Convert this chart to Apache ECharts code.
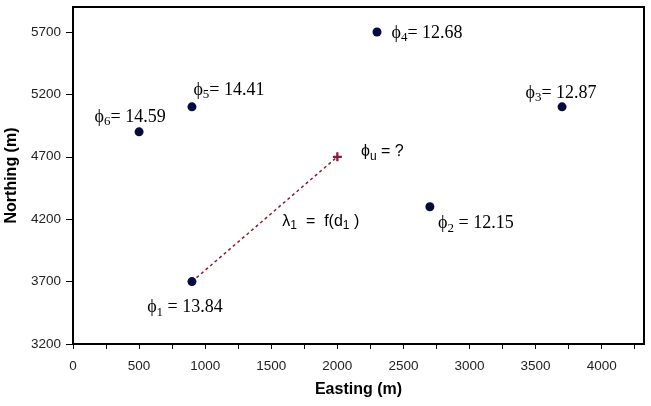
<!DOCTYPE html>
<html>
<head>
<meta charset="utf-8">
<script src="https://cdn.jsdelivr.net/npm/echarts@6/dist/echarts.min.js"></script>
<style>
  html, body { margin: 0; padding: 0; background: #fff; }
  #chart { width: 651px; height: 406px; }
</style>
</head>
<body>
<div id="chart"></div>
<script>
// known wells: easting, northing, subscript, value
var wellNames = ['1', '2', '3', '4', '5', '6']
var wellEasting = [900, 2700, 3700, 2300, 900, 500]
var wellNorthing = [3700, 4300, 5100, 5700, 5100, 4900]
var wellValues = ['13.84', '12.15', '12.87', '12.68', '14.41', '14.59']
// unknown point and the distance line from well 1
var unknownPoint = [2000, 4700]
var lambdaAnchor = [1875, 4184]

// label offsets (px) relative to each marker
var labelOffsets = [[-7, 26], [46, 17], [-1, -14], [50, 1], [37, -17], [-9, -15]]

var chart = echarts.init(document.getElementById('chart'))

var wellData = wellEasting.map(function(x, i) {
  return {
    value: [x, wellNorthing[i]],
    label: {
      show: true,
      position: 'inside',
      offset: labelOffsets[i],
      formatter: '{a|\u03d5}{s|' + wellNames[i] + '}{a|' + (i === 0 || i === 1 ? ' = ' : '= ') + wellValues[i] + '}'
    }
  }
})

var serifRich = {
  a: { fontFamily: 'Liberation Serif', fontSize: 18, color: '#000', lineHeight: 19 },
  s: { fontFamily: 'Liberation Serif', fontSize: 13, color: '#000', lineHeight: 13, padding: [10, 0, 0, 0] }
}
var sansRich = {
  a: { fontFamily: 'Liberation Sans', fontSize: 16, color: '#000', lineHeight: 19 },
  s: { fontFamily: 'Liberation Sans', fontSize: 12, color: '#000', lineHeight: 13, padding: [10, 0, 0, 0] }
}

chart.setOption({
  animation: false,
  grid: {
    left: 73,
    right: 7,
    top: 7,
    bottom: 62,
    outerBoundsMode: 'none',
    containLabel: false,
    show: true,
    borderColor: '#000',
    borderWidth: 2
  },
  xAxis: {
    type: 'value',
    min: 0,
    max: 4320,
    interval: 250,
    name: 'Easting (m)',
    nameLocation: 'middle',
    nameGap: 38,
    nameTextStyle: { fontFamily: 'Liberation Sans', fontWeight: 'bold', fontSize: 16, color: '#000' },
    splitLine: { show: false },
    axisLine: { lineStyle: { color: '#000', width: 2 } },
    axisTick: { length: 5, lineStyle: { color: '#000' } },
    axisLabel: {
      margin: 15,
      fontFamily: 'Liberation Sans',
      fontSize: 13.5,
      color: '#222',
      showMaxLabel: false,
      formatter: function(v) {
        return v % 500 === 0 ? String(v) : ''
      }
    }
  },
  yAxis: {
    type: 'value',
    min: 3200,
    max: 5900,
    interval: 500,
    name: 'Northing (m)',
    nameLocation: 'middle',
    nameGap: 50,
    nameTextStyle: { fontFamily: 'Liberation Sans', fontWeight: 'bold', fontSize: 16, color: '#000' },
    splitLine: { show: false },
    axisLine: { show: true, lineStyle: { color: '#000', width: 2 } },
    axisTick: { show: true, length: 7, lineStyle: { color: '#000' } },
    axisLabel: {
      margin: 12,
      fontFamily: 'Liberation Sans',
      fontSize: 13.5,
      color: '#222',
      showMaxLabel: false,
      formatter: function(v) {
        return String(v)
      }
    }
  },
  series: [{
    type: 'line',
    data: [[wellEasting[0], wellNorthing[0]], unknownPoint],
    symbol: 'none',
    silent: true,
    lineStyle: { color: '#8b1a2e', width: 1.5, type: [3, 3] },
    markPoint: {
      symbol: 'circle',
      symbolSize: 0,
      data: [{
        coord: lambdaAnchor,
        label: {
          show: true,
          formatter: '{a|\u03bb}{s|1}{a|  =  f(d}{s|1}{a| )}',
          rich: sansRich
        }
      }]
    },
    z: 1
  }, {
    type: 'scatter',
    data: wellData,
    symbol: 'circle',
    symbolSize: 9,
    itemStyle: { color: '#060a3c', opacity: 1 },
    label: { rich: serifRich },
    z: 3
  }, {
    type: 'scatter',
    data: [{
      value: unknownPoint,
      label: {
        show: true,
        position: 'inside',
        offset: [45, -5],
        formatter: '{a|\u03d5}{s|u}{a| = ?}'
      }
    }],
    symbol: 'path://M3,0h2v3h3v2h-3v3h-2v-3h-3v-2h3z',
    symbolSize: 9,
    itemStyle: { color: '#8b1a3a', opacity: 1 },
    label: { rich: sansRich },
    z: 3
  }]
})
</script>
</body>
</html>
